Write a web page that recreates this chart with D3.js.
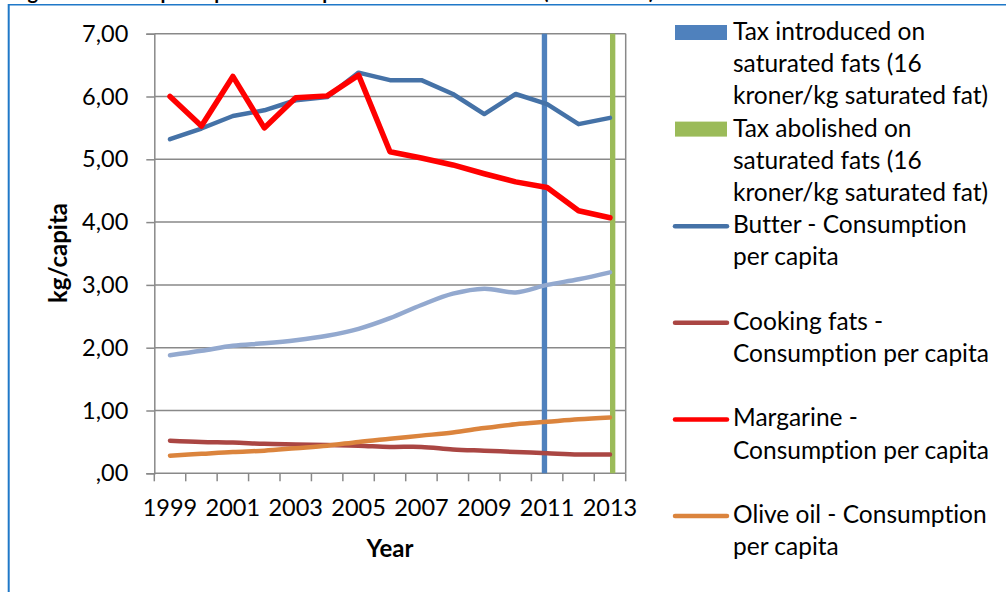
<!DOCTYPE html>
<html>
<head>
<meta charset="utf-8">
<script src="https://cdn.jsdelivr.net/npm/d3@7"></script>
<style>
  html, body { margin: 0; padding: 0; background: #fff; overflow: hidden; }
  svg { display: block; font-family: Lato, "Open Sans", sans-serif; font-variant-ligatures: none; }
</style>
</head>
<body>
<svg id="chart" width="1006" height="592"></svg>
<script>
// Annual consumption per capita (kg), 1999-2013
const years = [1999, 2000, 2001, 2002, 2003, 2004, 2005, 2006, 2007, 2008, 2009, 2010, 2011, 2012, 2013];
const butter    = [5.32, 5.49, 5.69, 5.78, 5.94, 5.99, 6.38, 6.26, 6.26, 6.04, 5.72, 6.04, 5.88, 5.56, 5.66];
const margarine = [6.00, 5.53, 6.32, 5.50, 5.98, 6.01, 6.34, 5.12, 5.02, 4.91, 4.77, 4.64, 4.55, 4.18, 4.07];
const blends    = [1.88, 1.95, 2.03, 2.07, 2.12, 2.19, 2.30, 2.47, 2.68, 2.86, 2.94, 2.88, 3.00, 3.09, 3.20];
const cooking   = [0.52, 0.50, 0.49, 0.47, 0.46, 0.45, 0.44, 0.42, 0.42, 0.38, 0.36, 0.34, 0.32, 0.30, 0.30];
const oliveOil  = [0.28, 0.31, 0.34, 0.36, 0.40, 0.44, 0.50, 0.55, 0.60, 0.65, 0.72, 0.78, 0.82, 0.86, 0.89];

// Tax events shown as full-height columns
const taxIntroducedYear = 2011;
const taxAbolishedYear  = 2013;
const taxColumnValue    = 7;

const yTicks = [0, 1, 2, 3, 4, 5, 6, 7];
const xTickLabels = [1999, 2001, 2003, 2005, 2007, 2009, 2011, 2013];

const legendLabels = [
  ["Tax introduced on", "saturated fats (16", "kroner/kg saturated fat)"],
  ["Tax abolished on", "saturated fats (16", "kroner/kg saturated fat)"],
  ["Butter - Consumption", "per capita"],
  ["Cooking fats -", "Consumption per capita"],
  ["Margarine -", "Consumption per capita"],
  ["Olive oil - Consumption", "per capita"]
];

const titleText = "Figure 4: Annual per capita consumption of fats in Denmark (1999-2013)";

const svg = d3.select("#chart");

// frame and caption
svg.append("text")
  .attr("x", 11).attr("y", -1)
  .attr("font-weight", "bold").attr("font-size", 20).attr("fill", "#000")
  .text(titleText);
svg.append("line").attr("x1", 8).attr("x2", 1006).attr("y1", 4.7).attr("y2", 4.7)
  .attr("stroke", "#1f78c8").attr("stroke-width", 1.4);
svg.append("line").attr("x1", 8.7).attr("x2", 8.7).attr("y1", 4).attr("y2", 592)
  .attr("stroke", "#1f78c8").attr("stroke-width", 2);

const plot = { left: 154.3, right: 625.7, top: 33.7, bottom: 473.3 };

const x = d3.scaleBand().domain(years).range([plot.left, plot.right]).padding(0);
const y = d3.scaleLinear().domain([0, 7]).range([plot.bottom, plot.top]);
const cx = d => x(d) + x.bandwidth() / 2;

const gridColor = "#898989";
const fmt = v => v === 0 ? ",00" : d3.format(".2f")(v).replace(".", ",");
const tickFont = 23.5;

// horizontal gridlines
svg.append("g").selectAll("line").data(yTicks.filter(v => v > 0)).join("line")
  .attr("x1", plot.left).attr("x2", plot.right)
  .attr("y1", d => y(d)).attr("y2", d => y(d))
  .attr("stroke", gridColor).attr("stroke-width", 1.5);

// right border of plot area
svg.append("line").attr("x1", plot.right).attr("x2", plot.right)
  .attr("y1", plot.top).attr("y2", plot.bottom)
  .attr("stroke", gridColor).attr("stroke-width", 1.5);

// y axis
const yAxis = d3.axisLeft(y).tickValues(yTicks).tickFormat(fmt).tickSize(8).tickPadding(18);
const gy = svg.append("g").attr("transform", `translate(${plot.left},0)`).call(yAxis);
gy.select(".domain").attr("stroke", gridColor).attr("stroke-width", 1.5);
gy.selectAll(".tick line").attr("stroke", gridColor).attr("stroke-width", 1.5);
gy.selectAll(".tick text").attr("font-size", tickFont).attr("fill", "#000")
  .attr("font-family", "Lato, sans-serif");

// x axis: ticks on band boundaries, labels on every other year
const bounds = years.map(d => x(d)).concat([plot.right]);
const gx = svg.append("g");
gx.append("line").attr("x1", plot.left).attr("x2", plot.right)
  .attr("y1", plot.bottom).attr("y2", plot.bottom)
  .attr("stroke", gridColor).attr("stroke-width", 1.5);
gx.selectAll("line.tk").data(bounds).join("line").attr("class", "tk")
  .attr("x1", d => d).attr("x2", d => d)
  .attr("y1", plot.bottom).attr("y2", plot.bottom + 8)
  .attr("stroke", gridColor).attr("stroke-width", 1.5);
gx.selectAll("text").data(xTickLabels).join("text")
  .attr("x", d => cx(d)).attr("y", 516)
  .attr("text-anchor", "middle").attr("font-size", tickFont).attr("fill", "#000")
  .text(d => d);

// axis titles
svg.append("text")
  .attr("transform", "translate(67,253) rotate(-90)")
  .attr("text-anchor", "middle").attr("font-size", 24).attr("font-weight", "bold")
  .text("kg/capita");
svg.append("text")
  .attr("x", 390).attr("y", 557)
  .attr("text-anchor", "middle").attr("font-size", 24).attr("font-weight", "bold")
  .text("Year");

// tax columns (clustered: introduced on the left half, abolished on the right half)
const colW = x.bandwidth() * 0.17;
const taxCols = [
  { year: taxIntroducedYear, value: taxColumnValue, color: "#4f81bd", side: -1 },
  { year: taxAbolishedYear,  value: taxColumnValue, color: "#9bbb59", side: 0 }
];
svg.append("g").selectAll("rect").data(taxCols).join("rect")
  .attr("x", d => cx(d.year) + d.side * colW)
  .attr("width", colW)
  .attr("y", d => y(d.value))
  .attr("height", d => y(0) - y(d.value))
  .attr("fill", d => d.color);

// consumption lines
const series = [
  { values: blends,    color: "#93a9cf", width: 4.5, smooth: true },
  { values: cooking,   color: "#aa4643", width: 4.5, smooth: true },
  { values: oliveOil,  color: "#db843d", width: 4.5, smooth: true },
  { values: butter,    color: "#4572a7", width: 4.5, smooth: false },
  { values: margarine, color: "#ff0000", width: 5.5, smooth: false }
];
series.forEach(s => {
  const line = d3.line()
    .x((d, i) => cx(years[i]))
    .y(d => y(d))
    .curve(s.smooth ? d3.curveCatmullRom.alpha(0.5) : d3.curveLinear);
  svg.append("path").datum(s.values)
    .attr("d", line)
    .attr("fill", "none")
    .attr("stroke", s.color)
    .attr("stroke-width", s.width)
    .attr("stroke-linejoin", "round")
    .attr("stroke-linecap", "round");
});

// legend
const legendKeys = [
  { type: "rect", color: "#4f81bd" },
  { type: "rect", color: "#9bbb59" },
  { type: "line", color: "#4572a7" },
  { type: "line", color: "#aa4643" },
  { type: "line", color: "#ff0000" },
  { type: "line", color: "#db843d" }
];
const lineH = 32.2;
const leg = svg.append("g");
legendKeys.forEach((k, i) => {
  const base = 40 + i * lineH * 3;
  if (k.type === "rect") {
    leg.append("rect").attr("x", 675).attr("y", base - 15).attr("width", 52).attr("height", 15)
      .attr("fill", k.color);
  } else {
    leg.append("line").attr("x1", 675).attr("x2", 727).attr("y1", base - 7).attr("y2", base - 7)
      .attr("stroke", k.color).attr("stroke-width", 4.5).attr("stroke-linecap", "round");
  }
  const t = leg.append("text").attr("x", 733).attr("y", base)
    .attr("font-size", 24.5).attr("fill", "#000");
  legendLabels[i].forEach((ln, j) => {
    t.append("tspan").attr("x", 733).attr("y", base + j * lineH).text(ln);
  });
});
</script>
</body>
</html>
